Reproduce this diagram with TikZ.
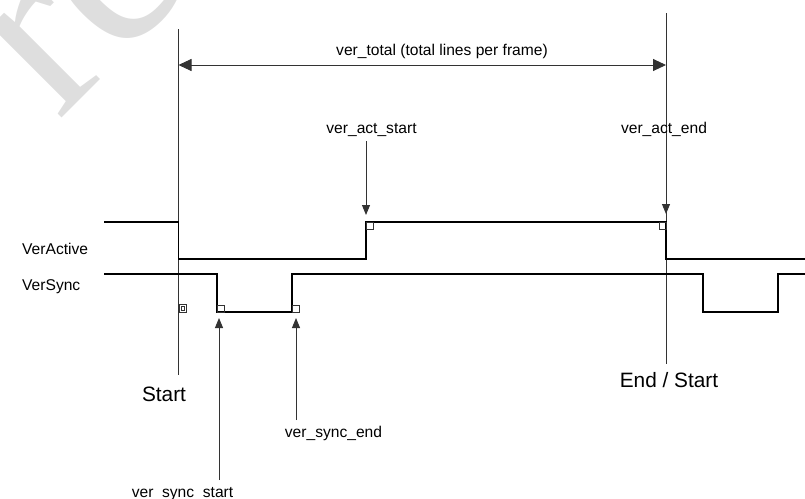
\documentclass[tikz,border=0pt]{standalone}
\usepackage{fontspec}
\setmainfont{Liberation Sans}
\newfontfamily\wmfont{Liberation Serif}
\usetikzlibrary{arrows.meta}
\tikzset{
  sig/.style={line width=1.8pt, black, line join=miter},
  thinline/.style={line width=0.9pt, black!80},
  smallarrow/.style={thinline, -{Triangle[length=10pt,width=8pt]}},
  mark box/.style={line width=0.8pt, black!80},
  lbl/.style={font=\fontsize{15.6}{18}\selectfont, inner sep=0pt, anchor=base},
  biglbl/.style={font=\fontsize{20.8}{24}\selectfont, inner sep=0pt, anchor=base},
}
\begin{document}
\begin{tikzpicture}[x=1pt,y=-1pt]
\useasboundingbox (0,0) rectangle (805,498);
\clip (0,0) rectangle (805,498);
% watermark
\node[text=black!13, font=\wmfont\fontsize{250}{250}\selectfont, inner sep=0pt, anchor=base west, rotate=45] (wm) at (58,122) {re};
% vertical reference lines
\coordinate (startTop) at (178.5,29);
\coordinate (startBot) at (178.5,375);
\coordinate (endTop) at (666,13);
\coordinate (endBot) at (666,364);
\draw[thinline] (startTop) -- (startBot);
\draw[thinline] (endTop) -- (endBot);
% total arrow
\coordinate (totL) at (178.5,65);
\coordinate (totR) at (666,65);
\draw[thinline, {Triangle[length=13pt,width=12pt]}-{Triangle[length=13pt,width=12pt]}] (totL) -- (totR);
\node[lbl] (total) at (442,55) {ver\_total (total lines per frame)};
% signals
\draw[sig] (104,222) -- (178.5,222) -- (178.5,259) -- (366,259) -- (366,222) -- (666,222) -- (666,259) -- (805,259);
\draw[sig] (104,274) -- (217,274) -- (217,312) -- (292,312) -- (292,274) -- (703,274) -- (703,312) -- (778,312) -- (778,274) -- (805,274);
\node[lbl, anchor=base west] (veractive) at (22,254) {VerActive};
\node[lbl, anchor=base west] (versync) at (22,290) {VerSync};
% corner marks
\draw[mark box] (217,305) rectangle (224,312);
\draw[mark box] (292,305) rectangle (299,312);
\draw[mark box] (366,222) rectangle (373,229);
\draw[mark box] (659,222) rectangle (666,229);
\draw[mark box] (179,304) rectangle (186,312);
\draw[line width=0.6pt, black!80] (181,306) rectangle (184,310.5);
% labels with arrows
\node[lbl] (actstart) at (371.5,133) {ver\_act\_start};
\coordinate (actstartA) at (366,141);
\coordinate (actstartB) at (366,215);
\draw[smallarrow] (actstartA) -- (actstartB);
\node[lbl] (actend) at (664,133) {ver\_act\_end};
\coordinate (actendA) at (666,141);
\coordinate (actendB) at (666,214);
\draw[smallarrow] (actendA) -- (actendB);
\node[lbl] (syncend) at (333.5,437) {ver\_sync\_end};
\coordinate (syncendA) at (296,420);
\coordinate (syncendB) at (296,318);
\draw[smallarrow] (syncendA) -- (syncendB);
\node[lbl] (syncstart) at (182.5,497) {ver\_sync\_start};
\coordinate (syncstartA) at (219,480);
\coordinate (syncstartB) at (219,318);
\draw[smallarrow] (syncstartA) -- (syncstartB);
\node[biglbl] (start) at (164,401) {Start};
\node[biglbl] (endstart) at (669,387) {End / Start};
\end{tikzpicture}
\end{document}
